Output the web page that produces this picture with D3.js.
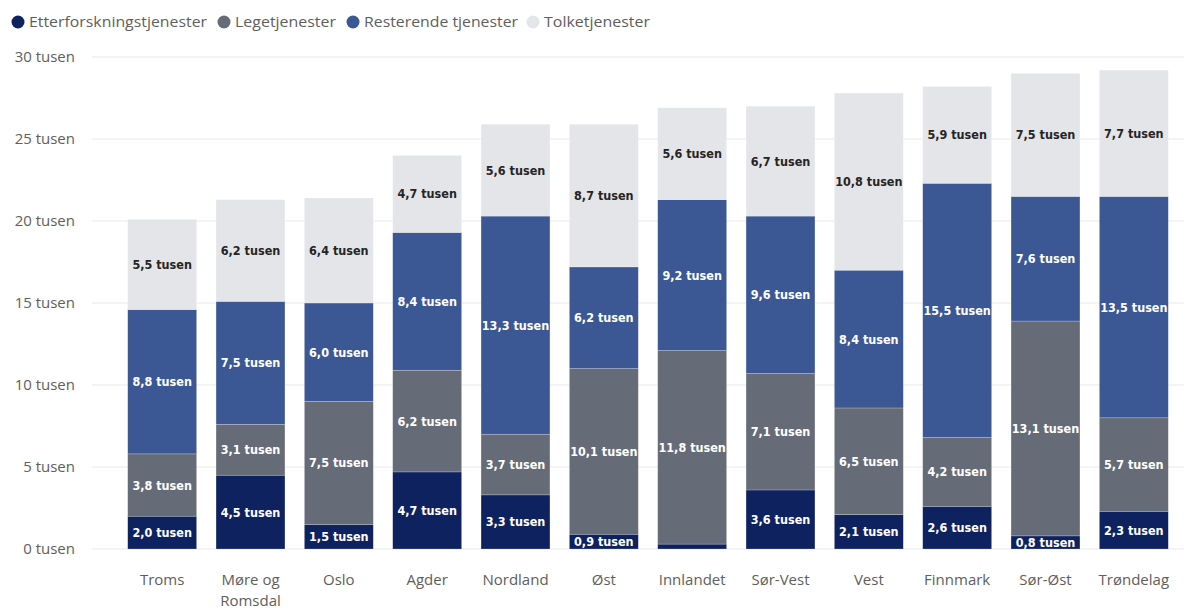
<!DOCTYPE html>
<html><head><meta charset="utf-8">
<script src="https://cdn.jsdelivr.net/npm/d3@7"></script>
<style>body{margin:0;background:#fff}svg{display:block}</style>
</head><body>
<svg id="c" width="1197" height="612"></svg>
<script>
const categories = ["Troms","Møre og Romsdal","Oslo","Agder","Nordland","Øst","Innlandet","Sør-Vest","Vest","Finnmark","Sør-Øst","Trøndelag"];
const seriesNames = ["Etterforskningstjenester","Legetjenester","Resterende tjenester","Tolketjenester"];
const etterforskning = [2.0,4.5,1.5,4.7,3.3,0.9,0.3,3.6,2.1,2.6,0.8,2.3];
const lege = [3.8,3.1,7.5,6.2,3.7,10.1,11.8,7.1,6.5,4.2,13.1,5.7];
const resterende = [8.8,7.5,6.0,8.4,13.3,6.2,9.2,9.6,8.4,15.5,7.6,13.5];
const tolk = [5.5,6.2,6.4,4.7,5.6,8.7,5.6,6.7,10.8,5.9,7.5,7.7];
const yTicks = [0,5,10,15,20,25,30];
const colors = ["#0f2260","#666b78","#3b5894","#e4e5e9"];
const labelColors = ["#ffffff","#ffffff","#ffffff","#252423"];

const svg = d3.select("#c");
const rows = categories.map((c,i)=>({cat:c,[seriesNames[0]]:etterforskning[i],[seriesNames[1]]:lege[i],[seriesNames[2]]:resterende[i],[seriesNames[3]]:tolk[i]}));
const stacked = d3.stack().keys(seriesNames)(rows);

const x = d3.scaleBand().domain(categories).range([118,1178]).paddingInner(0.22).paddingOuter(0.11);
const y = d3.scaleLinear().domain([0,30]).range([549,57]);

// grid
svg.append("g").selectAll("line").data(yTicks).join("line")
  .attr("x1",92).attr("x2",1184).attr("y1",d=>y(d)).attr("y2",d=>y(d))
  .attr("stroke","#e9e9e9").attr("stroke-width",1);
// y labels
svg.append("g").selectAll("text").data(yTicks).join("text")
  .attr("x",75).attr("y",d=>y(d)).attr("dy","0.35em").attr("text-anchor","end")
  .attr("font-family","'Open Sans', sans-serif").attr("font-size",15).attr("fill","#605e5c")
  .text(d=>d+" tusen");

// bars
const g = svg.append("g");
stacked.forEach((s,si)=>{
  g.append("g").selectAll("rect").data(s).join("rect")
    .attr("x",d=>x(d.data.cat)).attr("width",x.bandwidth())
    .attr("y",d=>y(d[1])).attr("height",d=>y(d[0])-y(d[1]))
    .attr("fill",colors[si]).attr("stroke","#ffffff").attr("stroke-opacity",0.35).attr("stroke-width",0.6);
});
stacked.forEach((s,si)=>{
  g.append("g").selectAll("text").data(s.filter(d=>d[1]-d[0]>=0.5)).join("text")
    .attr("x",d=>x(d.data.cat)+x.bandwidth()/2).attr("y",d=>y((d[0]+d[1])/2)).attr("dy","0.36em")
    .attr("text-anchor","middle").attr("font-family","'DejaVu Sans Condensed', sans-serif")
    .attr("font-weight","bold").attr("font-size",12.5).attr("fill",labelColors[si])
    .text(d=>d3.format(".1f")(d[1]-d[0]).replace(".",",")+" tusen");
});

// x labels
const xl = svg.append("g").selectAll("text").data(categories).join("text")
  .attr("x",d=>x(d)+x.bandwidth()/2).attr("y",585).attr("text-anchor","middle")
  .attr("font-family","'Open Sans', sans-serif").attr("font-size",15).attr("fill","#605e5c");
xl.each(function(d){
  const t=d3.select(this);
  if(d==="Møre og Romsdal"){
    t.append("tspan").attr("x",x(d)+x.bandwidth()/2).text("Møre og");
    t.append("tspan").attr("x",x(d)+x.bandwidth()/2).attr("dy",21).text("Romsdal");
  } else t.text(d);
});

// legend
const legX = [18,224,353,533];
const lg = svg.append("g").selectAll("g").data(seriesNames).join("g")
  .attr("transform",(d,i)=>`translate(${legX[i]},22)`);
lg.append("circle").attr("r",6.5).attr("fill",(d,i)=>colors[i]);
lg.append("text").attr("x",11).attr("dy","0.35em").attr("font-family","'Open Sans', sans-serif")
  .attr("font-size",15).attr("fill","#605e5c").attr("textLength",(d,i)=>[178,101,154,106][i]).attr("lengthAdjust","spacingAndGlyphs").text(d=>d);
</script>
</body></html>
